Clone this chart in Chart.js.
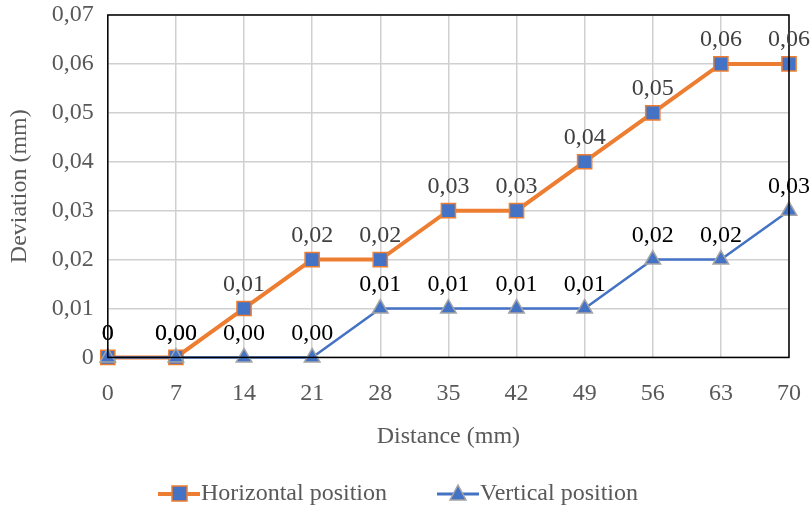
<!DOCTYPE html>
<html>
<head>
<meta charset="utf-8">
<script src="https://cdn.jsdelivr.net/npm/chart.js@4"></script>
<style>
  body { margin: 0; background: #fff; }
  #wrap { width: 811px; height: 510px; }
</style>
</head>
<body>
<div id="wrap"><canvas id="grafico" width="811" height="510"></canvas></div>
<script>
// data
var distances = ["0", "7", "14", "21", "28", "35", "42", "49", "56", "63", "70"];
var horizontalVals = [0, 0, 0.01, 0.02, 0.02, 0.03, 0.03, 0.04, 0.05, 0.06, 0.06];
var verticalVals = [0, 0, 0, 0, 0.01, 0.01, 0.01, 0.01, 0.02, 0.02, 0.03];
var horizontalLabels = ["0", "0,00", "0,01", "0,02", "0,02", "0,03", "0,03", "0,04", "0,05", "0,06", "0,06"];
var verticalLabels = ["0", "0,00", "0,00", "0,00", "0,01", "0,01", "0,01", "0,01", "0,02", "0,02", "0,03"];
var seriesNames = ["Horizontal position", "Vertical position"];

var serif = "'Liberation Serif', 'DejaVu Serif', serif";
var orange = "#ED7D31";
var blue = "#4472C4";
var fs = 24;

// border around the plot + value labels + legend
var extras = {
    id: "extras",
    afterDraw: function(chart) {
        var ctx = chart.ctx;
        var a = chart.chartArea;
        ctx.save();
        ctx.strokeStyle = "#000";
        ctx.lineWidth = 1.5;
        ctx.strokeRect(a.left, a.top, a.right - a.left, a.bottom - a.top);

        // value labels
        ctx.font = fs + "px " + serif;
        ctx.textAlign = "center";
        ctx.textBaseline = "bottom";
        var sets = [[1, horizontalLabels, "#404040"], [0, verticalLabels, "#000"]];
        sets.forEach(function(s) {
            var meta = chart.getDatasetMeta(s[0]);
            meta.data.forEach(function(pt, i) {
                ctx.fillStyle = s[2];
                ctx.fillText(s[1][i], pt.x, pt.y - 12);
            });
        });

        // legend
        var y = 494;
        var items = [
            { x: 158, name: seriesNames[0], line: orange, lw: 4, style: "rect", bg: blue, bc: orange },
            { x: 437, name: seriesNames[1], line: blue, lw: 3, style: "triangle", bg: blue, bc: "#A5A5A5" }
        ];
        items.forEach(function(it) {
            ctx.strokeStyle = it.line;
            ctx.lineWidth = it.lw;
            ctx.beginPath();
            ctx.moveTo(it.x, y);
            ctx.lineTo(it.x + 42, y);
            ctx.stroke();
            ctx.fillStyle = it.bg;
            ctx.strokeStyle = it.bc;
            ctx.lineWidth = 1.5;
            if (it.style == "rect") {
                ctx.fillRect(it.x + 14, y - 8, 15, 15);
                ctx.strokeRect(it.x + 14, y - 8, 15, 15);
            } else {
                ctx.beginPath();
                ctx.moveTo(it.x + 21, y - 9);
                ctx.lineTo(it.x + 29, y + 6);
                ctx.lineTo(it.x + 13, y + 6);
                ctx.closePath();
                ctx.fill();
                ctx.stroke();
            }
            ctx.fillStyle = "#595959";
            ctx.textAlign = "left";
            ctx.textBaseline = "middle";
            ctx.font = fs + "px " + serif;
            ctx.fillText(it.name, it.x + 43, y);
        });
        ctx.restore();
    }
};

var canvas = document.getElementById("grafico");
var graph = new Chart(canvas, {
    type: "line",
    data: {
        labels: distances,
        datasets: [
            {
                label: seriesNames[1],
                data: verticalVals,
                borderColor: blue,
                borderWidth: 2.5,
                backgroundColor: blue,
                pointStyle: "triangle",
                pointRadius: 9,
                pointBackgroundColor: blue,
                pointBorderColor: "#A5A5A5",
                pointBorderWidth: 1.5,
                tension: 0,
                clip: false,
                order: 0
            },
            {
                label: seriesNames[0],
                data: horizontalVals,
                borderColor: orange,
                borderWidth: 4,
                backgroundColor: blue,
                pointStyle: "rect",
                pointRadius: 10,
                pointBackgroundColor: blue,
                pointBorderColor: orange,
                pointBorderWidth: 1.5,
                tension: 0,
                clip: false,
                order: 1
            }
        ]
    },
    options: {
        responsive: false,
        animation: false,
        layout: { padding: { top: 15, right: 22, bottom: 55, left: 1 } },
        plugins: {
            legend: { display: false },
            tooltip: { enabled: false }
        },
        scales: {
            x: {
                offset: false,
                afterFit: function(scale) {
                    scale.paddingLeft = 0;
                    scale.paddingRight = 0;
                },
                grid: { color: "#D0D0D0", lineWidth: 1.5, drawTicks: false },
                border: { display: false },
                ticks: { color: "#595959", font: { family: serif, size: fs }, padding: 22, maxRotation: 0 },
                title: { display: true, text: "Distance (mm)", color: "#595959", font: { family: serif, size: fs }, padding: { top: -8 } }
            },
            y: {
                min: 0,
                max: 0.07,
                afterFit: function(scale) {
                    scale.paddingTop = 0;
                    scale.paddingBottom = 0;
                },
                grid: { color: "#D0D0D0", lineWidth: 1.5, drawTicks: false },
                border: { display: false },
                ticks: {
                    stepSize: 0.01,
                    color: "#595959",
                    font: { family: serif, size: fs },
                    padding: 14,
                    callback: function(v) {
                        if (v == 0) return "0";
                        return v.toFixed(2).replace(".", ",");
                    }
                },
                title: { display: true, text: "Deviation (mm)", color: "#595959", font: { family: serif, size: fs }, padding: { bottom: 4 } }
            }
        }
    },
    plugins: [extras]
});
</script>
</body>
</html>
